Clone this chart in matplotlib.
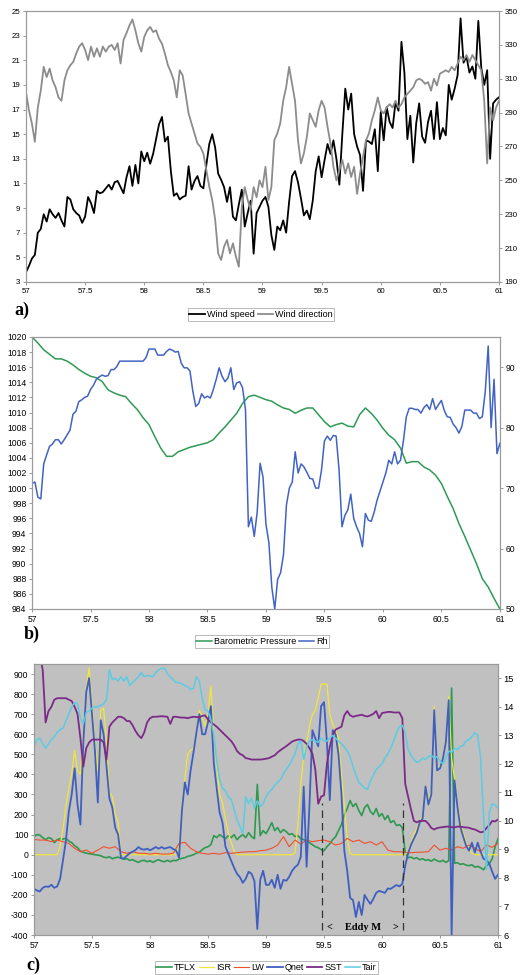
import numpy as np
import matplotlib
matplotlib.use('Agg')
import matplotlib.pyplot as plt

plt.rcParams['font.family'] = ['Liberation Sans', 'DejaVu Sans']
plt.rcParams['axes.unicode_minus'] = False

# ---- shared x axis (day of year) ----
x_ticks = [57, 57.5, 58, 58.5, 59, 59.5, 60, 60.5, 61]
x_tick_labels = ['57', '57.5', '58', '58.5', '59', '59.5', '60', '60.5', '61']

# ---- panel a: wind ----
wind_speed = [
    3.8, 4.3, 4.9, 5.2, 7.0, 7.3, 8.5, 7.9, 8.9, 8.5,
    8.2, 8.6, 8.0, 7.5, 9.9, 9.7, 8.9, 8.6, 8.4, 7.8,
    8.3, 9.9, 9.4, 8.6, 10.4, 10.2, 10.3, 10.6, 10.9, 10.5,
    11.1, 11.2, 10.7, 10.2, 11.5, 12.4, 10.8, 12.5, 11.0, 13.6,
    12.8, 13.5, 12.6, 13.4, 14.6, 15.8, 16.4, 14.4, 14.8, 12.0,
    10.0, 10.2, 9.7, 9.9, 10.0, 12.4, 10.5, 11.2, 11.6, 10.8,
    10.6, 12.5, 14.2, 15.0, 13.9, 11.8, 11.3, 10.7, 9.5, 10.7,
    8.3, 8.0, 9.3, 10.5, 7.5, 8.6, 9.6, 5.3, 8.6, 9.1,
    9.6, 9.9, 9.1, 6.8, 5.6, 7.5, 7.2, 8.0, 7.0, 9.5,
    11.6, 12.0, 11.1, 9.8, 8.4, 8.8, 8.1, 9.6, 12.0, 13.2,
    11.5, 12.9, 14.2, 13.4, 14.5, 13.0, 10.9, 15.0, 18.7, 17.0,
    18.3, 15.0, 14.0, 13.3, 10.4, 14.5, 14.4, 14.2, 15.4, 12.0,
    16.8, 14.5, 17.2, 16.0, 15.5, 17.6, 16.9, 22.5, 20.0, 14.6,
    16.5, 12.7, 15.9, 17.5, 14.8, 14.3, 16.0, 16.9, 14.6, 17.6,
    14.6, 15.5, 14.9, 19.0, 17.8, 18.7, 19.8, 24.4, 20.8, 21.3,
    20.0, 20.5, 19.5, 24.2, 20.4, 19.0, 20.2, 13.0, 17.5, 17.8,
    18.0]
wind_dir = [
    302, 291.4, 283.6, 272.8, 293, 303, 317, 311, 316, 309,
    305, 299, 297, 309, 315, 318, 320, 325, 329, 331,
    327, 321, 329, 323, 328, 323, 329, 326, 329, 330,
    327, 331, 319, 333, 337, 341.5, 345, 338.6, 331, 326,
    334.7, 338.6, 340.6, 337.6, 338.6, 333.7, 330.7, 324.8, 318, 314,
    309, 299, 315, 312, 301, 289.5, 283.6, 277.7, 271.8, 269.8,
    265.9, 256, 246.2, 238.4, 226.6, 206.9, 203, 210.8, 214.8, 206.9,
    212.8, 205, 199, 234.4, 246, 238.4, 232.5, 246, 240, 250,
    246, 258, 238.4, 246, 273.7, 277.7, 283.6, 297, 305, 317,
    307, 297, 273.7, 260, 266, 275.7, 289.5, 285.5, 281.6, 291.4,
    297, 293, 281.6, 271.8, 258, 250, 256, 262, 254, 260,
    252, 258, 242, 254, 264, 273.7, 277.7, 285.5, 291.4, 299,
    291.4, 289.5, 293, 295, 293, 297, 293, 295, 299, 301,
    303, 305, 309, 310, 309, 307, 308, 303, 310, 306,
    313, 314, 315, 314, 317, 315, 319, 323, 321, 324,
    320, 324, 321, 318, 315, 297, 260, 293, 285.5, 293,
    297]

# ---- panel b: pressure and humidity ----
pressure = [
    1020.0, 1019.2, 1018.3, 1017.7, 1017.1, 1017.1, 1016.8, 1016.3, 1015.7, 1015.2,
    1014.8, 1014.6, 1014.1, 1013.0, 1012.6, 1012.3, 1012.1, 1011.2, 1010.4, 1009.3,
    1008.4, 1006.8, 1005.3, 1004.2, 1004.2, 1004.8, 1005.1, 1005.4, 1005.6, 1005.8,
    1006.0, 1006.4, 1007.3, 1008.1, 1009.0, 1009.9, 1011.2, 1012.1, 1012.3, 1012.0,
    1011.7, 1011.5, 1011.0, 1010.6, 1010.4, 1009.9, 1010.3, 1010.6, 1010.6, 1009.7,
    1008.8, 1008.1, 1008.4, 1008.6, 1008.2, 1008.1, 1009.7, 1010.6, 1009.9, 1009.0,
    1007.9, 1007.0, 1006.4, 1005.3, 1003.3, 1003.5, 1003.5, 1002.8, 1002.4, 1001.7,
    1000.6, 998.9, 997.3, 995.3, 993.6, 991.8, 990.0, 988.0, 986.9, 985.4,
    984.0]
rh = [
    70.8, 71.0, 68.5, 68.2, 74.0, 75.5, 76.9, 77.3, 78.0, 78.0,
    77.3, 78.0, 78.8, 79.6, 82.2, 82.7, 84.3, 84.6, 85.0, 85.2,
    86.3, 87.0, 88.0, 88.4, 88.7, 88.5, 88.6, 89.6, 89.6, 90.1,
    91.0, 91.0, 91.0, 91.0, 91.0, 91.0, 91.0, 91.0, 91.0, 91.6,
    93.0, 93.0, 93.0, 92.0, 92.0, 92.0, 92.6, 93.0, 92.8, 92.5,
    92.6, 90.7, 89.9, 89.9, 89.4, 86.0, 83.5, 84.0, 85.6, 84.9,
    85.2, 84.9, 86.3, 88.0, 89.9, 88.5, 87.6, 88.2, 89.9, 86.3,
    87.4, 87.6, 86.6, 83.0, 63.6, 65.2, 62.0, 66.0, 74.1, 71.8,
    64.0, 61.0, 53.6, 50.0, 54.9, 56.0, 59.0, 67.2, 70.0, 71.0,
    76.0, 72.5, 74.0, 73.5, 72.6, 71.6, 71.5, 70.0, 70.0, 73.0,
    77.8, 78.6, 77.9, 78.7, 78.6, 73.0, 63.6, 65.5, 66.4, 69.0,
    65.0, 63.6, 62.5, 60.3, 65.8, 64.7, 64.5, 66.0, 68.0, 69.5,
    71.0, 72.5, 74.6, 74.0, 76.0, 74.0, 74.6, 77.8, 81.8, 83.2,
    83.2, 83.0, 83.0, 82.4, 83.3, 83.8, 83.0, 84.8, 83.0, 83.8,
    84.5, 82.8, 81.8, 81.7, 80.6, 80.0, 79.1, 80.2, 82.9, 82.9,
    82.9, 82.4, 82.4, 81.5, 81.8, 86.0, 93.5, 80.0, 88.0, 75.7,
    77.4]

# ---- panel c: heat fluxes (W/m2) and temperatures (deg C) ----
tflx = [
    90, 100, 98, 85, 75, 85, 80, 60, 75, 80,
    78, 82, 68, 60, 45, 35, 18, 12, 8, 5,
    3, 0, -2, -5, -12, -15, -10, -20, -15, -12,
    -18, -22, -20, -28, -25, -32, -38, -30, -28, -35,
    -30, -38, -30, -25, -32, -35, -28, -35, -28, -30,
    -22, -18, -15, -8, -5, 0, 8, 12, 25, 35,
    40, 50, 95, 85, 100, 90, 80, 95, 85, 100,
    75, 90, 100, 85, 110, 90, 80, 350, 95, 120,
    105, 130, 160, 120, 135, 110, 125, 115, 100, 105,
    90, 95, 80, 75, 70, 60, 50, 40, 35, 25,
    20, 40, 55, 75, 90, 120, 150, 200, 230, 270,
    240, 255, 220, 195, 235, 250, 215, 200, 230, 190,
    205, 175, 195, 160, 170, 145, 150, 135, 10, -15,
    -12, -20, -15, -25, -20, -28, -25, -32, -22, -30,
    -35, -28, -38, -30, 830, -42, -40, -48, -45, -52,
    -55, -50, -62, -58, -65, -75, -55, -45, -20, 40,
    80]
isr = [
    0, 0, 0, 0, 0, 0, 0, 0, 0, 40,
    130, 240, 330, 400, 520, 420, 400, 600, 830, 930,
    750, 560, 420, 720, 730, 560, 310, 290, 200, 160,
    0, 0, 0, 0, 0, 0, 0, 0, 0, 0,
    0, 0, 0, 0, 0, 0, 0, 0, 0, 0,
    40, 250, 380, 500, 520, 530, 620, 720, 680, 640,
    700, 840, 580, 440, 300, 260, 180, 110, 60, 20,
    0, 0, 0, 0, 0, 0, 0, 0, 0, 0,
    0, 0, 0, 0, 0, 0, 0, 0, 0, 0,
    10, 150, 350, 490, 560, 640, 700, 720, 780, 850,
    850, 850, 700, 650, 620, 580, 400, 250, 80, 5,
    0, 0, 0, 0, 0, 0, 0, 0, 0, 0,
    0, 0, 0, 0, 0, 0, 0, 0, 0, 20,
    60, 100, 130, 170, 190, 340, 270, 320, 740, 440,
    440, 490, 580, 790, 480, 380, 260, 170, 110, 60,
    30, 10, 0, 0, 0, 0, 0, 0, 0, 0,
    0]
lw_flux = [
    76, 73, 73, 65, 73, 65, 56, 32, 15, 23,
    7, 23, 40, 32, 40, 15, 7, 15, 7, 7,
    3, 7, 3, 3, 7, 56, 62, 32, 15, 7,
    3, 7, 3, 10, 7, 10, 13, 15, 15, 20,
    23, 32, 48, 90, 40, 73, 53, 73, 65, 70,
    73, 65, 48, 56, 81, 65, 73, 56, 65, 48,
    65, 23, 15, 15, 12, 10, 12, 13, 15, 48,
    23, 32, 23, 40, 32, 48, 32, 15, 48, 37,
    56]
qnet = [
    -170, -178, -183, -165, -158, -160, -150, -165, -158, -120,
    -27, 70, 215, 300, 430, 250, 150, 560, 810, 880,
    700, 520, 260, 670, 600, 440, 280, 235, 135, 100,
    -15, -20, -5, 7, 15, 23, 38, 28, 25, 30,
    22, 30, 38, 30, 38, 30, 35, 38, 28, 22,
    -15, 220, 360, 300, 420, 510, 610, 700, 600, 600,
    660, 740, 455, 330, 210, 160, 40, 5, -30, -65,
    -95, -112, -140, -120, -85, -95, -130, -370, -125, -80,
    -150, -150, -125, -165, -100, -170, -125, -130, -110, -80,
    -62, -50, -10, 339, -60, 250, 620, 580, 540, 740,
    760, 560, 272, 620, 600, 500, 305, 20, -80, -215,
    -226, -310, -235, -300, -200, -225, -245, -220, -190, -180,
    -185, -190, -168, -170, -160, -151, -158, -145, -55, 7,
    50, 80, 110, 160, 180, 340, 250, 300, 720, 420,
    430, 480, 560, 770, -400, 370, 240, 140, 90, 45,
    20, 60, 10, 60, 15, -20, -27, -45, -85, -120,
    -100]
sst = [
    16.0, 16.0, 15.8, 15.3, 13.45, 13.85, 14.0, 14.25, 14.3, 14.3,
    14.3, 14.3, 14.25, 14.2, 14.0, 13.75, 12.9, 11.9, 12.55, 12.75,
    12.85, 12.85, 12.85, 12.85, 12.75, 12.15, 13.3, 13.45, 13.55, 13.65,
    13.65, 13.6, 13.5, 13.5, 13.35, 13.15, 13.0, 12.9, 13.1, 13.45,
    13.6, 13.65, 13.65, 13.66, 13.67, 13.66, 13.65, 13.4, 13.65, 13.65,
    13.63, 13.62, 13.62, 13.6, 13.63, 13.65, 13.64, 13.63, 13.68, 13.7,
    13.55, 13.45, 13.38, 13.3, 13.2, 13.1, 13.0, 12.9, 12.8, 12.65,
    12.45, 12.35, 12.3, 12.2, 12.18, 12.15, 12.15, 12.15, 12.15, 12.16,
    12.18, 12.2, 12.25, 12.3, 12.4, 12.48, 12.55, 12.62, 12.7, 12.78,
    12.82, 12.85, 12.85, 12.8, 12.7, 12.55, 12.35, 11.8, 10.6, 10.85,
    10.9, 12.0, 12.6, 13.0, 13.2, 13.25, 13.3, 13.7, 13.85, 13.7,
    13.65, 13.68, 13.7, 13.72, 13.68, 13.66, 13.7, 13.75, 13.85, 13.6,
    13.78, 13.8, 13.82, 13.82, 13.8, 13.8, 13.8, 13.6, 11.3, 10.85,
    10.4, 10.0, 9.95, 10.0, 10.0, 10.0, 9.9, 9.75, 9.7, 9.75,
    9.77, 9.78, 9.8, 9.8, 9.78, 9.77, 9.8, 9.8, 9.78, 9.77,
    9.76, 9.72, 9.7, 9.65, 9.6, 9.62, 9.75, 9.85, 10.0, 9.98,
    10.05]
tair = [
    12.6, 12.85, 12.9, 12.7, 12.55, 12.7, 12.85, 12.95, 13.1, 13.2,
    13.25, 13.5, 13.75, 14.0, 14.15, 14.1, 13.6, 13.4, 13.8, 13.85,
    13.95, 14.0, 14.0, 14.05, 14.1, 14.25, 15.3, 14.95, 15.0, 14.9,
    15.05, 14.9, 15.05, 14.75, 14.85, 14.95, 15.05, 15.2, 15.05, 15.1,
    15.08, 15.05, 15.2, 15.3, 15.35, 15.35, 15.15, 15.05, 14.95, 14.85,
    14.85, 14.8, 14.75, 14.7, 14.6, 14.65, 15.05, 14.9, 14.3, 13.9,
    13.85, 13.55, 13.0, 12.1, 11.45, 11.15, 11.05, 10.85, 10.75, 10.4,
    10.05, 9.8, 9.55, 10.85, 10.6, 10.8, 10.45, 10.7, 10.5, 10.6,
    10.85, 11.0, 11.1, 11.25, 11.35, 11.45, 11.65, 11.8, 11.95, 12.15,
    12.35, 12.7, 12.8, 12.15, 12.6, 12.8, 12.85, 12.8, 12.75, 12.9,
    12.8, 12.8, 12.9, 13.0, 12.9, 12.8, 12.7, 12.6, 12.45, 12.25,
    11.9, 11.6, 11.35, 11.25, 11.15, 11.1, 11.4, 11.6, 11.8, 11.9,
    12.0, 12.2, 12.35, 12.55, 12.8, 13.1, 13.3, 13.35, 13.1, 12.5,
    12.3, 12.15, 12.05, 12.1, 12.2, 12.15, 12.25, 12.3, 12.2, 12.25,
    12.1, 12.0, 12.2, 12.45, 12.4, 12.55, 12.5, 12.6, 12.65, 12.8,
    12.85, 12.95, 13.1, 13.0, 12.2, 10.2, 8.3, 10.3, 10.6, 10.55,
    10.45]

eddy_bounds = [59.48, 60.18]


def days(values):
    return np.linspace(57, 61, len(values))


def style_pair(ax, ax2, size):
    for a in (ax, ax2):
        for s in a.spines.values():
            s.set_color('#9a9a9a')
            s.set_linewidth(0.8)
        a.tick_params(direction='out', length=2.5, width=0.6, color='#8a8a8a',
                      labelsize=size, pad=1.5)
    ax.set_xlim(57, 61)
    ax.set_xticks(x_ticks)
    ax.set_xticklabels(x_tick_labels)


def add_legend(fig, ax, ax2, pos, ncol):
    h1, l1 = ax.get_legend_handles_labels()
    h2, l2 = ax2.get_legend_handles_labels()
    leg = fig.legend(h1 + h2, l1 + l2, loc='center', bbox_to_anchor=pos, ncol=ncol,
                     fontsize=6.5, frameon=True, fancybox=False, edgecolor='#9a9a9a',
                     handlelength=1.7, handletextpad=0.2, columnspacing=0.35,
                     borderpad=0.2, borderaxespad=0)
    leg.get_frame().set_linewidth(0.6)


fig = plt.figure(figsize=(5.24, 9.75), dpi=100)
label_font = dict(family='Liberation Serif', fontweight='bold', fontsize=13)

# a) wind
ax_a = fig.add_axes([0.0496, 0.7108, 0.9027, 0.2779])
ax_a2 = ax_a.twinx()
ax_a.plot(days(wind_speed), wind_speed, color='black', lw=1.3, label='Wind speed')
ax_a2.plot(days(wind_dir), wind_dir, color='#8c8c8c', lw=1.3, label='Wind direction')
ax_a.set_ylim(3, 25)
ax_a.set_yticks(np.arange(3, 26, 2))
ax_a2.set_ylim(190, 350)
ax_a2.set_yticks(np.arange(190, 351, 20))
style_pair(ax_a, ax_a2, 5.7)
add_legend(fig, ax_a, ax_a2, (0.498, 0.6774), 2)
fig.text(0.042, 0.682, 'a)', ha='center', va='center', **label_font)

# b) pressure / Rh
ax_b = fig.add_axes([0.0611, 0.3754, 0.8929, 0.279])
ax_b2 = ax_b.twinx()
ax_b.plot(days(pressure), pressure, color='#2f9a55', lw=1.1, label='Barometric Pressure')
ax_b2.plot(days(rh), rh, color='#4163c3', lw=1.1, label='Rh')
ax_b.set_ylim(984, 1020)
ax_b.set_yticks(np.arange(984, 1021, 2))
ax_b2.set_ylim(50, 95)
ax_b2.set_yticks(np.arange(50, 91, 10))
style_pair(ax_b, ax_b2, 6.2)
add_legend(fig, ax_b, ax_b2, (0.5, 0.342), 2)
fig.text(0.061, 0.349, 'b)', ha='center', va='center', **label_font)

# c) fluxes and temperatures
ax_c = fig.add_axes([0.0649, 0.041, 0.8855, 0.278])
ax_c2 = ax_c.twinx()
ax_c.set_facecolor('#c0c0c0')
ax_c.plot(days(tflx), tflx, color='#2e9a50', lw=1.2, label='TFLX')
ax_c.plot(days(isr), isr, color='#f2e53c', lw=0.9, label='ISR')
ax_c.plot(days(lw_flux), lw_flux, color='#f0502d', lw=0.8, label='LW')
ax_c.plot(days(qnet), qnet, color='#3f5fc0', lw=1.3, label='Qnet')
ax_c2.plot(days(sst), sst, color='#7b2a87', lw=1.3, label='SST')
ax_c2.plot(days(tair), tair, color='#5ccbe3', lw=1.1, label='Tair')
ax_c.set_ylim(-400, 950)
ax_c.set_yticks(np.arange(-400, 901, 100))
ax_c2.set_ylim(6, 15.5)
ax_c2.set_yticks(np.arange(6, 16, 1))
style_pair(ax_c, ax_c2, 6.2)
ax_c2.tick_params(labelsize=6.7)
ax_c.vlines(eddy_bounds, -375, 256, colors='#333333', linestyles=(0, (6, 4)), lw=0.9)
eddy_font = dict(family='Liberation Serif', fontweight='bold', fontsize=7.5)
ax_c.text(59.55, -362, '<', ha='center', va='center', **eddy_font)
ax_c.text(59.84, -362, 'Eddy M', ha='center', va='center', **eddy_font)
ax_c.text(60.12, -362, '>', ha='center', va='center', **eddy_font)
add_legend(fig, ax_c, ax_c2, (0.5086, 0.0079), 6)
fig.text(0.063, 0.0103, 'c)', ha='center', va='center', **label_font)

fig.savefig('out.png', dpi=100)
